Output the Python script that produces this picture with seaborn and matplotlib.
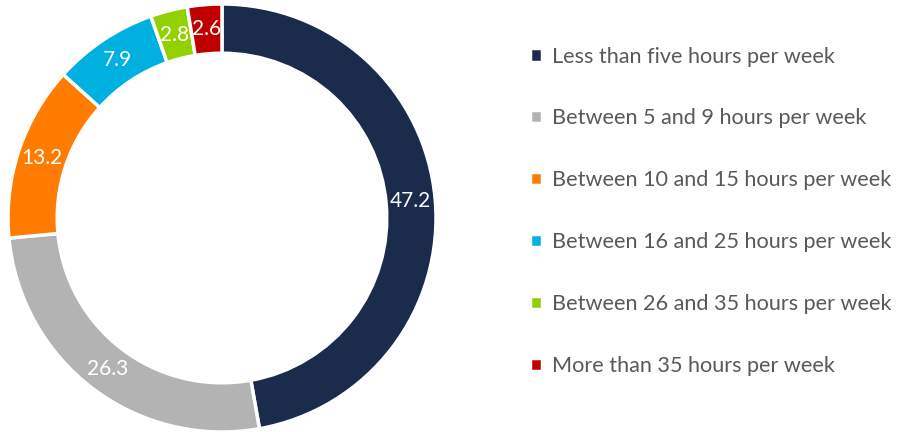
import matplotlib
matplotlib.use('Agg')
import matplotlib.pyplot as plt
import seaborn as sns

categories = ['Less than five hours per week', 'Between 5 and 9 hours per week',
              'Between 10 and 15 hours per week', 'Between 16 and 25 hours per week',
              'Between 26 and 35 hours per week', 'More than 35 hours per week']
values = [47.2, 26.3, 13.2, 7.9, 2.8, 2.6]
colors = ['#1b2b4b', '#b3b3b3', '#ff7c00', '#00b0e0', '#92d000', '#c00000']

sns.set_theme(style='white')
plt.rcParams['font.family'] = ['Lato', 'DejaVu Sans']

fig = plt.figure(figsize=(9, 4.32), dpi=100)
ax = fig.add_axes([8 / 900, 0, 428 / 900, 428 / 432])

wedges, texts, autotexts = ax.pie(
    values, colors=colors, startangle=90, counterclock=False, radius=1,
    autopct='%.1f', pctdistance=0.885,
    wedgeprops=dict(width=0.23, edgecolor='white', linewidth=2.5),
    textprops=dict(color='white', fontsize=15))
ax.set_xlim(-1, 1)
ax.set_ylim(-1, 1)
ax.set_aspect('equal')
ax.axis('off')

fig.legend(wedges, categories, loc='upper left', bbox_to_anchor=(521 / 900, 1 - 38 / 432),
           frameon=False, fontsize=15.6, labelcolor='#595959',
           handlelength=0.55, handleheight=0.55, handletextpad=0.5,
           labelspacing=1.93, borderaxespad=0)

fig.savefig('out.png', dpi=100)
